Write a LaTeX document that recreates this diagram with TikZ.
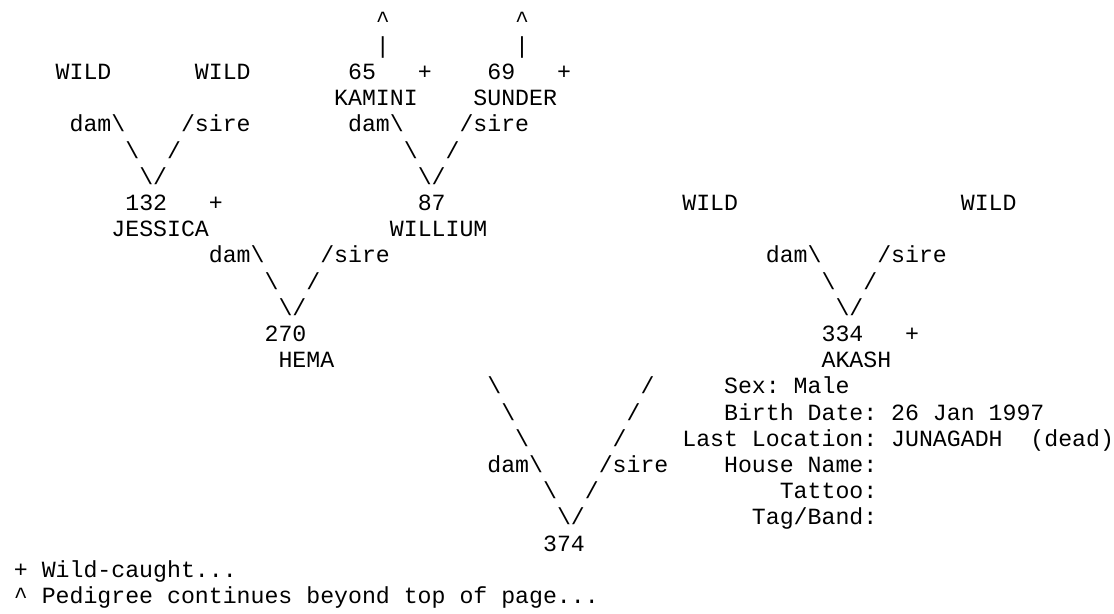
\documentclass[tikz,border=0pt]{standalone}
\usepackage{fontspec}
\setmonofont{Liberation Mono}
\usepackage{tikz}
\newcommand{\PedFont}{\ttfamily\fontsize{12}{13.5}\selectfont\frenchspacing}
\newcommand{\BackSl}{\textbackslash}

\begin{document}
\begin{tikzpicture}[x=7.2pt,y=-13.547pt,
    txt/.style={anchor=base west,inner sep=0pt,outer sep=0pt,font=\PedFont}]
  \useasboundingbox (0,-1.0343) rectangle (80,22.363);
  \foreach \c/\n in {27/a,37/b} {
    \node[txt] (up\n) at (\c,0) {\textasciicircum};
    \node[txt] (bar\n) at (\c,1) {\textbar};
  }
  \node[txt] (wildA) at (4,2) {WILD};
  \node[txt] (wildB) at (14,2) {WILD};
  \node[txt] (id65) at (25,2) {65};
  \node[txt] (plus65) at (30,2) {+};
  \node[txt] (id69) at (35,2) {69};
  \node[txt] (plus69) at (40,2) {+};
  \node[txt] (kamini) at (24,3) {KAMINI};
  \node[txt] (sunder) at (34,3) {SUNDER};
  \foreach \b/\r [count=\i] in {8/4,28/4,18/9,58/9,38/17} {
    \node[txt] (dam\i) at (\b-3,\r) {dam\BackSl};
    \node[txt] (sire\i) at (\b+5,\r) {/sire};
    \node[txt] (bs\i) at (\b+1,\r+1) {\BackSl};
    \node[txt] (fs\i) at (\b+4,\r+1) {/};
    \node[txt] (vee\i) at (\b+2,\r+2) {\BackSl/};
  }
  \node[txt] (id132) at (9,7) {132};
  \node[txt] (plus132) at (15,7) {+};
  \node[txt] (id87) at (30,7) {87};
  \node[txt] (wildC) at (49,7) {WILD};
  \node[txt] (wildD) at (69,7) {WILD};
  \node[txt] (jessica) at (8,8) {JESSICA};
  \node[txt] (willium) at (28,8) {WILLIUM};
  \node[txt] (id270) at (19,12) {270};
  \node[txt] (id334) at (59,12) {334};
  \node[txt] (plus334) at (65,12) {+};
  \node[txt] (hema) at (20,13) {HEMA};
  \node[txt] (akash) at (59,13) {AKASH};
  \foreach \k in {0,1,2} {
    \node[txt] (legd\k) at (35+\k,14+\k) {\BackSl};
    \node[txt] (legs\k) at (46-\k,14+\k) {/};
  }
  \node[txt] (sex) at (52,14) {Sex: Male};
  \node[txt] (birth) at (52,15) {Birth Date: 26 Jan 1997};
  \node[txt] (loc) at (49,16) {Last Location: JUNAGADH};
  \node[txt] (dead) at (74,16) {(dead)};
  \node[txt] (house) at (52,17) {House Name:};
  \node[txt] (tattoo) at (56,18) {Tattoo:};
  \node[txt] (tag) at (54,19) {Tag/Band:};
  \node[txt] (id374) at (39,20) {374};
  \node[txt] (keyplus) at (1,21) {+ Wild-caught...};
  \node[txt] (keyup) at (1,22) {\textasciicircum{} Pedigree continues beyond top of page...};
\end{tikzpicture}
\end{document}
